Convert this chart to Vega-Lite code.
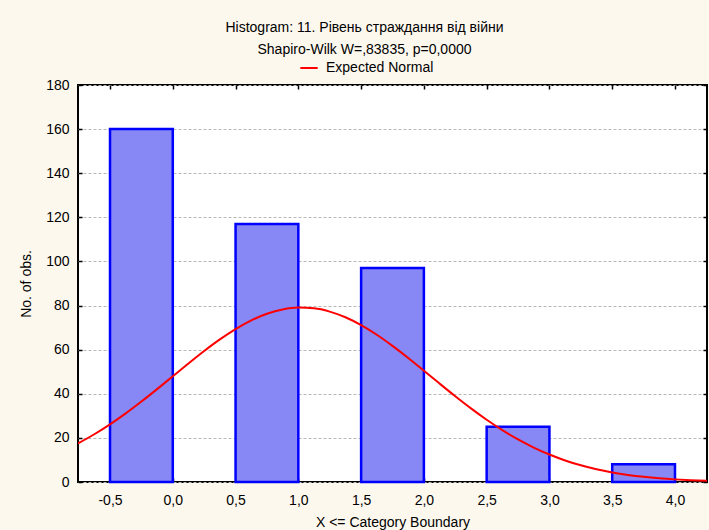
{
  "$schema": "https://vega.github.io/schema/vega-lite/v6.json",
  "autosize": "none",
  "width": 629,
  "height": 397,
  "padding": {"left": 78, "top": 85, "right": 2, "bottom": 48},
  "background": "#fdf8ee",
  "config": {
    "font": "Liberation Sans",
    "view": {"fill": "#ffffff", "stroke": "#000000", "strokeWidth": 2},
    "axis": {"labelFont": "Liberation Sans", "titleFont": "Liberation Sans", "labelColor": "#000000", "titleColor": "#000000", "labelFontSize": 14, "titleFontSize": 14, "titleFontWeight": "normal", "tickColor": "#000000", "tickWidth": 1.5, "domain": false},
    "legend": {"labelFont": "Liberation Sans", "labelFontSize": 14, "labelColor": "#000000"}
  },
  "title": {
    "text": "Histogram: 11. Рівень страждання від війни",
    "subtitle": "Shapiro-Wilk W=,83835, p=0,0000",
    "fontSize": 14,
    "fontWeight": "normal",
    "subtitleFontSize": 14,
    "subtitleColor": "#000000",
    "color": "#000000",
    "subtitlePadding": 8,
    "anchor": "middle",
    "frame": "group",
    "dx": -28,
    "offset": 1
  },
  "datasets": {
    "bins": [
      {"start": -0.5, "end": 0.0, "count": 160},
      {"start": 0.5, "end": 1.0, "count": 117},
      {"start": 1.5, "end": 2.0, "count": 97},
      {"start": 2.5, "end": 3.0, "count": 25},
      {"start": 3.5, "end": 4.0, "count": 8}
    ],
    "normal": [
      {"x": -0.755, "expected": 17.5},
      {"x": -0.625, "expected": 21.65},
      {"x": -0.5, "expected": 26.14},
      {"x": -0.375, "expected": 31.1},
      {"x": -0.25, "expected": 36.47},
      {"x": -0.125, "expected": 42.12},
      {"x": 0.0, "expected": 47.94},
      {"x": 0.125, "expected": 53.76},
      {"x": 0.25, "expected": 59.39},
      {"x": 0.375, "expected": 64.64},
      {"x": 0.5, "expected": 69.33},
      {"x": 0.625, "expected": 73.26},
      {"x": 0.75, "expected": 76.27},
      {"x": 0.875, "expected": 78.24},
      {"x": 1.0, "expected": 79.07},
      {"x": 1.125, "expected": 78.74},
      {"x": 1.25, "expected": 77.26},
      {"x": 1.375, "expected": 74.68},
      {"x": 1.5, "expected": 71.13},
      {"x": 1.625, "expected": 66.75},
      {"x": 1.75, "expected": 61.71},
      {"x": 1.875, "expected": 56.22},
      {"x": 2.0, "expected": 50.47},
      {"x": 2.125, "expected": 44.62},
      {"x": 2.25, "expected": 38.88},
      {"x": 2.375, "expected": 33.38},
      {"x": 2.5, "expected": 28.23},
      {"x": 2.625, "expected": 23.52},
      {"x": 2.75, "expected": 19.31},
      {"x": 2.875, "expected": 15.63},
      {"x": 3.0, "expected": 12.46},
      {"x": 3.125, "expected": 9.78},
      {"x": 3.25, "expected": 7.57},
      {"x": 3.375, "expected": 5.77},
      {"x": 3.5, "expected": 4.34},
      {"x": 3.625, "expected": 3.21},
      {"x": 3.75, "expected": 2.34},
      {"x": 3.875, "expected": 1.68},
      {"x": 4.0, "expected": 1.19},
      {"x": 4.125, "expected": 0.83},
      {"x": 4.255, "expected": 0.56}
    ]
  },
  "resolve": {"axis": {"x": "independent", "y": "independent"}},
  "layer": [
    {
      "data": {"name": "bins"},
      "mark": {"type": "bar", "fill": "#8787f5", "stroke": "#0000ff", "strokeWidth": 2.5},
      "encoding": {
        "x": {
          "field": "start", "type": "quantitative",
          "scale": {"domain": [-0.755, 4.255], "nice": false, "zero": false},
          "axis": {
            "orient": "bottom",
            "values": [-0.5, 0, 0.5, 1, 1.5, 2, 2.5, 3, 3.5, 4],
            "labelExpr": "replace(replace(format(datum.value, '.1f'), '.', ','), '\u2212', '-')",
            "tickSize": -4, "labelPadding": 15, "grid": false,
            "title": "X <= Category Boundary", "titlePadding": 8
          }
        },
        "x2": {"field": "end"},
        "y": {
          "field": "count", "type": "quantitative",
          "scale": {"domain": [0, 180], "nice": false},
          "axis": {
            "orient": "left",
            "values": [0, 20, 40, 60, 80, 100, 120, 140, 160, 180],
            "tickSize": -4, "labelPadding": 13,
            "grid": true, "gridColor": "#b8b8b8", "gridDash": [3, 2], "gridWidth": 1,
            "title": "No. of obs.", "titlePadding": 12
          }
        },
        "y2": {"datum": 0}
      }
    },
    {
      "data": {"name": "normal"},
      "mark": {"type": "line", "strokeWidth": 2, "interpolate": "monotone", "clip": true},
      "encoding": {
        "x": {
          "field": "x", "type": "quantitative",
          "axis": {"orient": "top", "values": [-0.5, 0, 0.5, 1, 1.5, 2, 2.5, 3, 3.5, 4], "labels": false, "tickSize": -4, "grid": false, "title": null}
        },
        "y": {
          "field": "expected", "type": "quantitative",
          "axis": {"orient": "right", "values": [0, 20, 40, 60, 80, 100, 120, 140, 160, 180], "labels": false, "tickSize": -4, "grid": false, "title": null}
        },
        "color": {
          "datum": "Expected Normal",
          "scale": {"range": ["#ff0000"]},
          "legend": {
            "orient": "none", "legendX": 221, "legendY": -27, "title": null,
            "symbolType": "stroke", "symbolStrokeWidth": 2, "symbolSize": 300, "labelOffset": 7
          }
        }
      }
    }
  ]
}
